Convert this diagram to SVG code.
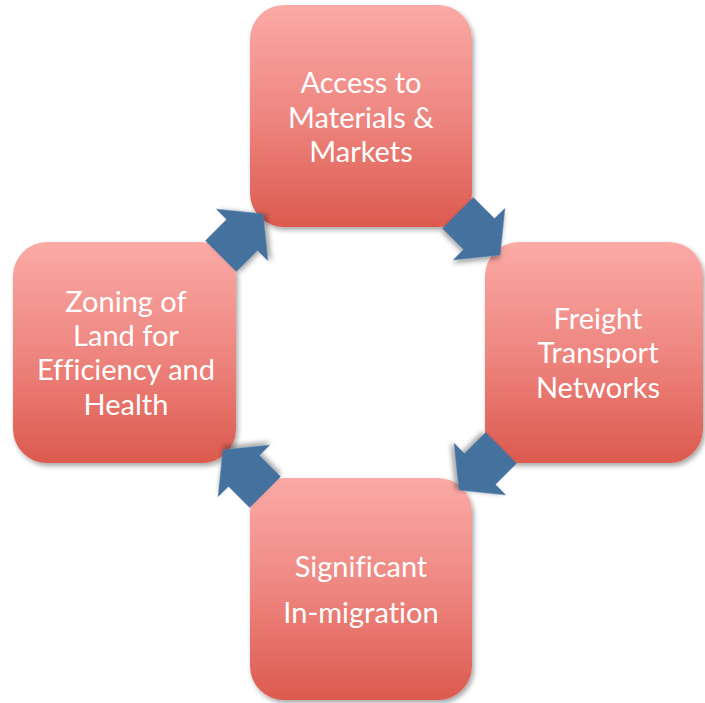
<svg xmlns="http://www.w3.org/2000/svg" width="705" height="703" viewBox="0 0 705 703">
<defs>
<linearGradient id="boxGrad" x1="0" y1="0" x2="0" y2="1">
<stop offset="0" stop-color="#FBAAA6"/>
<stop offset="0.5" stop-color="#EE8680"/>
<stop offset="1" stop-color="#DC5A4E"/>
</linearGradient>
<filter id="shadow" x="-10%" y="-10%" width="125%" height="125%">
<feGaussianBlur in="SourceAlpha" stdDeviation="2.5"/>
<feOffset dx="2" dy="3" result="b"/>
<feComponentTransfer><feFuncA type="linear" slope="0.35"/></feComponentTransfer>
<feMerge><feMergeNode/><feMergeNode in="SourceGraphic"/></feMerge>
</filter>
<path id="arrow" d="M-30,-22 L0,-22 L0,-37 L30,0 L0,37 L0,22 L-30,22 Z"/>
</defs>
<style>
.box{fill:url(#boxGrad);filter:url(#shadow);}
.lbl{font-family:Lato,"Open Sans","Liberation Sans",sans-serif;font-size:29px;fill:#FFFFFF;text-anchor:middle;font-variant-ligatures:none;font-feature-settings:"liga" 0,"dlig" 0;}
.arr{fill:#44719F;filter:url(#shadow);}
</style>
<rect width="705" height="703" fill="#FFFFFF"/>
<g id="node-access">
<rect class="box" x="250" y="5" width="222" height="222" rx="34"/>
<text class="lbl" x="361" y="93">Access to</text>
<text class="lbl" x="361" y="128">Materials &amp;</text>
<text class="lbl" x="361" y="162">Markets</text>
</g>
<g id="node-freight">
<rect class="box" x="485" y="242" width="218" height="221" rx="34"/>
<text class="lbl" x="598" y="329">Freight</text>
<text class="lbl" x="598" y="363">Transport</text>
<text class="lbl" x="598" y="398">Networks</text>
</g>
<g id="node-migration">
<rect class="box" x="250" y="478" width="222" height="222" rx="34"/>
<text class="lbl" x="361" y="577">Significant</text>
<text class="lbl" x="361" y="623">In-migration</text>
</g>
<g id="node-zoning">
<rect class="box" x="13" y="242" width="223" height="221" rx="34"/>
<text class="lbl" x="126" y="312">Zoning of</text>
<text class="lbl" x="126" y="346">Land for</text>
<text class="lbl" x="126" y="380">Efficiency and</text>
<text class="lbl" x="126" y="415">Health</text>
</g>
<g id="connectors">
<use href="#arrow" class="arr" transform="translate(242,235) rotate(-45)"/>
<use href="#arrow" class="arr" transform="translate(479,234) rotate(45)"/>
<use href="#arrow" class="arr" transform="translate(480,469) rotate(135)"/>
<use href="#arrow" class="arr" transform="translate(244,471) rotate(-135)"/>
</g>
</svg>
